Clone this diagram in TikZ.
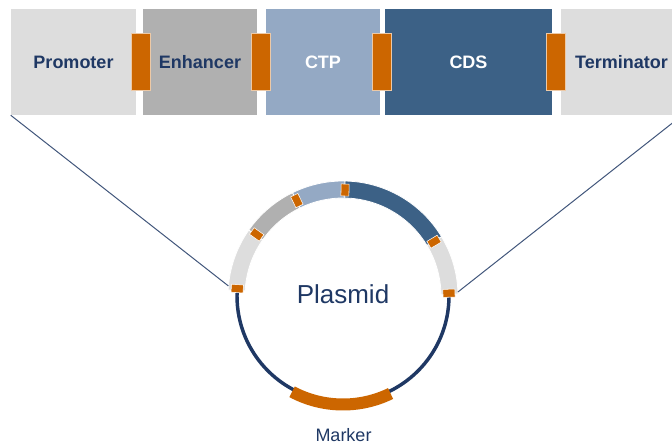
\documentclass[tikz,border=0pt]{standalone}
\usepackage{fontspec}
\setmainfont{Liberation Sans}
\usetikzlibrary{calc}

\definecolor{lgray}{HTML}{DDDDDD}
\definecolor{mgray}{HTML}{B0B0B0}
\definecolor{ctpblue}{HTML}{94A9C4}
\definecolor{cdsblue}{HTML}{3C6186}
\definecolor{junc}{HTML}{CC6600}
\definecolor{navy}{HTML}{1F3864}

\tikzset{
  part/.style={minimum height=79.5pt, inner sep=0pt, font=\fontsize{13.5}{16}\selectfont\bfseries},
  joint/.style={fill=junc, draw=junc!35!white, line width=0.6pt, minimum width=14.25pt, minimum height=42.75pt, inner sep=0pt},
  tick/.style={fill=junc, draw=white, line width=0.4pt, minimum width=9pt, minimum height=6pt, inner sep=0pt},
  zoomline/.style={draw=navy!85!white, line width=0.75pt},
}

\begin{document}
\begin{tikzpicture}[x=0.75pt, y=0.75pt]
\clip (0,0) rectangle (672,446);
\node[part, fill=lgray, text=navy, minimum width=93.75pt] (promoter) at (73.5,384) {Promoter};
\node[part, fill=mgray, text=navy, minimum width=85.5pt] (enhancer) at (200,384) {Enhancer};
\node[part, fill=ctpblue, text=white, minimum width=85.5pt] (ctp) at (323,384) {CTP};
\node[part, fill=cdsblue, text=white, minimum width=125.25pt] (cds) at (468.5,384) {CDS};
\node[part, fill=lgray, text=navy, minimum width=90.75pt] (terminator) at (621.5,384) {Terminator};
\node[joint] (j1) at (140.5,384.5) {};
\node[joint] (j2) at (260.5,384.5) {};
\node[joint] (j3) at (381.5,384.5) {};
\node[joint] (j4) at (555.5,384.5) {};

\coordinate (ori) at (343,150);
\draw[navy, line width=2.6pt] (ori) circle[radius=106];
\fill[lgray, draw=white, line width=0.6pt] ($(ori)+(145:98)$) arc[start angle=145, end angle=177, radius=98] -- ($(ori)+(177:115)$) arc[start angle=177, end angle=145, radius=115] -- cycle;
\fill[mgray, draw=white, line width=0.6pt] ($(ori)+(116:98)$) arc[start angle=116, end angle=145, radius=98] -- ($(ori)+(145:115)$) arc[start angle=145, end angle=116, radius=115] -- cycle;
\fill[ctpblue, draw=white, line width=0.6pt] ($(ori)+(89:98)$) arc[start angle=89, end angle=116, radius=98] -- ($(ori)+(116:115)$) arc[start angle=116, end angle=89, radius=115] -- cycle;
\fill[cdsblue, draw=white, line width=0.6pt] ($(ori)+(31:98)$) arc[start angle=31, end angle=89, radius=98] -- ($(ori)+(89:115)$) arc[start angle=89, end angle=31, radius=115] -- cycle;
\fill[lgray, draw=white, line width=0.6pt] ($(ori)+(1:98)$) arc[start angle=1, end angle=31, radius=98] -- ($(ori)+(31:115)$) arc[start angle=31, end angle=1, radius=115] -- cycle;
\draw[junc, line width=9pt] ($(ori)+(242:108.5)$) arc[start angle=242, end angle=296, radius=108.5];
\node[tick, rotate=176] (t1) at ($(ori)+(176:106)$) {};
\node[tick, rotate=144.5] (t2) at ($(ori)+(144.5:106)$) {};
\node[tick, rotate=115.8] (t3) at ($(ori)+(115.8:106)$) {};
\node[tick, rotate=88.9] (t4) at ($(ori)+(88.9:106)$) {};
\node[tick, rotate=30.8] (t5) at ($(ori)+(30.8:106)$) {};
\node[tick, rotate=1.5] (t6) at ($(ori)+(1.5:106)$) {};

\node[text=navy, font=\fontsize{19.5}{23}\selectfont] (plasmid) at (343,152) {Plasmid};
\node[text=navy, font=\fontsize{13.5}{16}\selectfont] (marker) at (343.5,10.5) {Marker};

\coordinate (lend) at ($(ori)+(175:115)$);
\coordinate (rend) at ($(ori)+(2:115)$);
\draw[zoomline] (promoter.south west) -- (lend);
\draw[zoomline] (terminator.south east) -- (rend);
\end{tikzpicture}
\end{document}
